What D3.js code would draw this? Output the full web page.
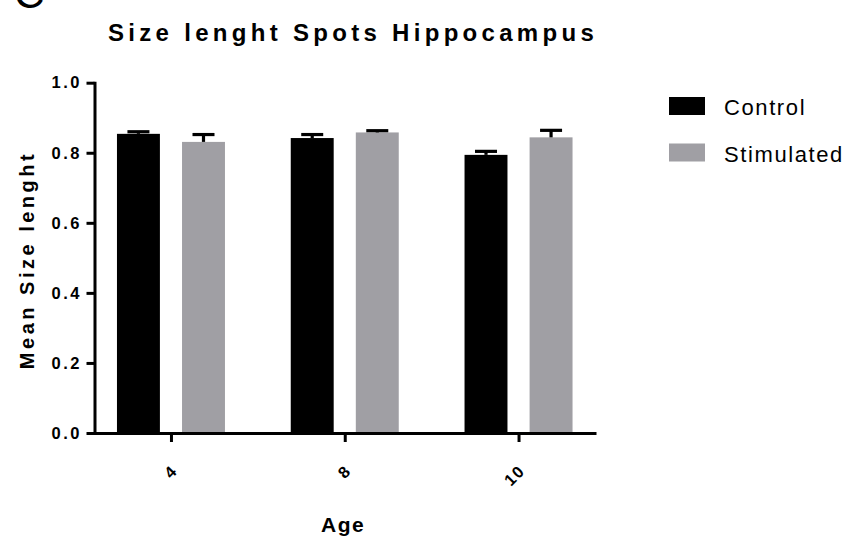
<!DOCTYPE html>
<html>
<head>
<meta charset="utf-8">
<script src="https://cdn.jsdelivr.net/npm/d3@7"></script>
<style>
  html, body { margin: 0; padding: 0; background: #fff; }
  svg { display: block; }
  svg text { font-family: "Liberation Sans", Arial, sans-serif; fill: #000; }
</style>
</head>
<body>
<svg id="chart" width="851" height="540"></svg>
<script>
// ---- data ----
const ages = ["4", "8", "10"];
const seriesNames = ["Control", "Stimulated"];
const controlMean = [0.854, 0.842, 0.794];
const controlSem  = [0.006, 0.010, 0.010];
const stimMean    = [0.831, 0.858, 0.844];
const stimSem     = [0.021, 0.005, 0.020];
const yTicks = [0.0, 0.2, 0.4, 0.6, 0.8, 1.0];
const colors = ["#000000", "#a09fa4"];

const rows = [];
ages.forEach((a, i) => {
  rows.push({ age: a, series: "Control", mean: controlMean[i], sem: controlSem[i] });
  rows.push({ age: a, series: "Stimulated", mean: stimMean[i], sem: stimSem[i] });
});

const svg = d3.select("#chart");
const mLeft = 94.5, mRight = 595, mTop = 82.7, mBottom = 433;

const y = d3.scaleLinear().domain([0, 1]).range([mBottom, mTop]);
const x0 = d3.scalePoint().domain(ages).range([mLeft, mRight]).padding(0.44);
const x1 = d3.scaleBand().domain(seriesNames).range([-54, 54]).paddingInner(0.34);
const color = d3.scaleOrdinal().domain(seriesNames).range(colors);

// bars
svg.append("g").selectAll("rect").data(rows).join("rect")
  .attr("x", d => x0(d.age) + x1(d.series))
  .attr("y", d => y(d.mean))
  .attr("width", x1.bandwidth())
  .attr("height", d => y(0) - y(d.mean))
  .attr("fill", d => color(d.series));

// error bars (upper only)
const eb = svg.append("g").attr("stroke", "#000").attr("stroke-width", 3.2);
eb.selectAll("line.v").data(rows).join("line").attr("class", "v")
  .attr("x1", d => x0(d.age) + x1(d.series) + x1.bandwidth() / 2)
  .attr("x2", d => x0(d.age) + x1(d.series) + x1.bandwidth() / 2)
  .attr("y1", d => y(d.mean))
  .attr("y2", d => y(d.mean + d.sem));
eb.selectAll("line.c").data(rows).join("line").attr("class", "c")
  .attr("x1", d => x0(d.age) + x1(d.series) + x1.bandwidth() / 2 - 11)
  .attr("x2", d => x0(d.age) + x1(d.series) + x1.bandwidth() / 2 + 11)
  .attr("y1", d => y(d.mean + d.sem))
  .attr("y2", d => y(d.mean + d.sem));

// y axis
const yAxis = svg.append("g").attr("transform", `translate(${mLeft},0)`)
  .call(d3.axisLeft(y).tickValues(yTicks).tickFormat(d3.format(".1f")).tickSize(8).tickSizeOuter(0).tickPadding(7));
yAxis.attr("font-family", null).attr("font-size", null);
yAxis.selectAll("path, line").attr("stroke", "#000").attr("stroke-width", 3);
yAxis.selectAll("text")
  .style("font-size", "16.5px").style("font-weight", "bold").style("letter-spacing", "2.5px")
  .attr("dx", 2.5);

// x axis
const xAxis = svg.append("g").attr("transform", `translate(0,${mBottom})`)
  .call(d3.axisBottom(x0).tickSize(9).tickSizeOuter(0));
xAxis.attr("font-family", null).attr("font-size", null);
xAxis.selectAll("path, line").attr("stroke", "#000").attr("stroke-width", 3);
xAxis.select("path.domain").attr("d", `M${mLeft - 1.5},0.5H${mRight}`);
xAxis.selectAll("text")
  .style("font-size", "16.5px").style("font-weight", "bold").style("letter-spacing", "1.5px")
  .attr("y", 0).attr("dy", 0).attr("text-anchor", "end")
  .attr("transform", "translate(7,39) rotate(-45)");
svg.selectAll(".domain").attr("stroke-linecap", "square");

// titles
svg.append("text").attr("x", 108).attr("y", 40.5)
  .style("font-size", "24px").style("font-weight", "bold").style("letter-spacing", "4.3px")
  .text("Size lenght Spots Hippocampus");

svg.append("text").attr("x", 321).attr("y", 532)
  .style("font-size", "21px").style("font-weight", "bold").style("letter-spacing", "1.5px")
  .text("Age");

svg.append("text").attr("transform", "translate(34,260) rotate(-90)")
  .attr("text-anchor", "middle")
  .style("font-size", "20px").style("font-weight", "bold").style("letter-spacing", "3.5px")
  .text("Mean Size lenght");

// panel letter (clipped at the top edge, as in the reference)
svg.append("text").attr("x", 14).attr("y", 8).style("font-size", "42px").text("C");

// legend
const lg = svg.append("g");
seriesNames.forEach((s, i) => {
  const gy = 97 + i * 46.5;
  lg.append("rect").attr("x", 669).attr("y", gy).attr("width", 36).attr("height", 18).attr("fill", color(s));
  lg.append("text").attr("x", 724).attr("y", gy + 18)
    .style("font-size", "22px").style("letter-spacing", "1.6px").text(s);
});
</script>
</body>
</html>
